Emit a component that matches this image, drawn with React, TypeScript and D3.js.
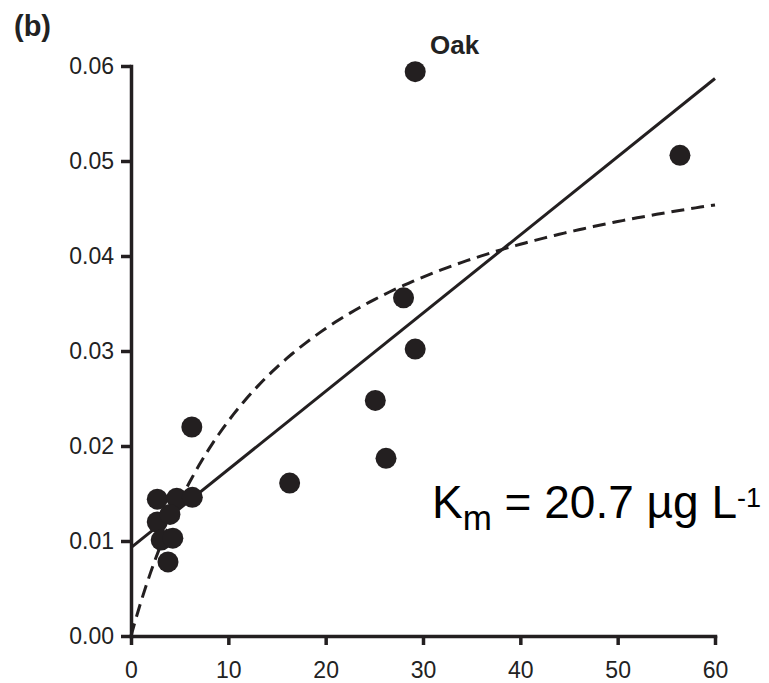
import { useEffect, useRef } from 'react';
import * as d3 from 'd3';

// observed points (x, rate)
const xVals = [29.2, 56.4, 28.0, 29.2, 25.1, 26.2, 16.3, 6.25, 2.7, 4.7, 6.3, 2.7, 4.0, 3.1, 4.3, 3.8];
const yVals = [0.0594, 0.0506, 0.0356, 0.0302, 0.0248, 0.0187, 0.0161, 0.022, 0.0144, 0.0145, 0.0146, 0.012, 0.0128, 0.0101, 0.0103, 0.0078];

const xTicks = [0, 10, 20, 30, 40, 50, 60];
const yTicks = [0, 0.01, 0.02, 0.03, 0.04, 0.05, 0.06];

// fitted lines, parameters
const linIntercept = 0.0093;
const linSlope = 0.000823;
const curveVmax = 0.0568;
const curveHalf = 15.1;

const INK = '#231f20';
const FONT = '"Liberation Sans", Arial, sans-serif';

const App = () => {
  const ref = useRef<SVGSVGElement | null>(null);

  useEffect(() => {
    if (!ref.current) return;
    const svg = d3.select(ref.current);
    svg.selectAll('*').remove();

    const x = d3.scaleLinear().domain([0, 60]).range([131, 715]);
    const y = d3.scaleLinear().domain([0, 0.06]).range([636, 66]);

    // x axis
    const gx = svg.append('g')
      .attr('transform', `translate(0,${y(0)})`)
      .call(d3.axisBottom(x).tickValues(xTicks).tickSize(9).tickSizeOuter(0).tickPadding(17).tickFormat(d3.format('d')));
    // y axis
    const gy = svg.append('g')
      .attr('transform', `translate(${x(0)},0)`)
      .call(d3.axisLeft(y).tickValues(yTicks).tickSize(10).tickSizeOuter(0).tickPadding(7).tickFormat(d3.format('.2f')));

    [gx, gy].forEach(g => {
      g.select('.domain').attr('stroke', INK).attr('stroke-width', 3.5).attr('stroke-linecap', 'square');
      g.selectAll('.tick line').attr('stroke', INK).attr('stroke-width', 3.5);
      g.selectAll('.tick text')
        .attr('fill', '#222')
        .style('font-family', FONT)
        .style('font-size', '23px');
    });

    // fitted lines
    const linePts = [0, 60].map(v => [v, linIntercept + linSlope * v] as [number, number]);
    const mmPts = d3.range(0, 60.01, 0.5).map(v => [v, (curveVmax * v) / (curveHalf + v)] as [number, number]);
    const line = d3.line<[number, number]>().x(d => x(d[0])).y(d => y(d[1]));

    svg.append('path')
      .attr('d', line(mmPts))
      .attr('fill', 'none')
      .attr('stroke', INK)
      .attr('stroke-width', 3)
      .attr('stroke-dasharray', '13,7');

    svg.append('path')
      .attr('d', line(linePts))
      .attr('fill', 'none')
      .attr('stroke', INK)
      .attr('stroke-width', 3);

    // points
    svg.append('g')
      .selectAll('circle')
      .data(xVals.map((v, i) => [v, yVals[i]]))
      .enter().append('circle')
      .attr('cx', d => x(d[0]))
      .attr('cy', d => y(d[1]))
      .attr('r', 10.5)
      .attr('fill', INK);

    // labels
    svg.append('text')
      .attr('x', 14).attr('y', 36)
      .style('font-family', FONT)
      .style('font-size', '29px').style('font-weight', 'bold')
      .attr('fill', '#222')
      .text('(b)');

    svg.append('text')
      .attr('x', 430).attr('y', 54)
      .style('font-family', FONT)
      .style('font-size', '26px').style('font-weight', 'bold')
      .attr('fill', '#222')
      .text('Oak');

    const km = svg.append('text')
      .attr('x', 432).attr('y', 518)
      .style('font-family', FONT)
      .style('font-size', '46px')
      .attr('fill', '#000');
    km.append('tspan').text('K');
    km.append('tspan').attr('dy', 12).style('font-size', '35px').text('m');
    km.append('tspan').attr('dy', -12).text(' = 20.7 µg L');
    km.append('tspan').attr('dy', -11).style('font-size', '27px').text('-1');
  }, []);

  return (
    <div style={{ position: 'absolute', left: 0, top: 0 }}>
      <svg ref={ref} width={769} height={683} style={{ display: 'block', background: '#fff' }} />
    </div>
  );
};

export default App;
